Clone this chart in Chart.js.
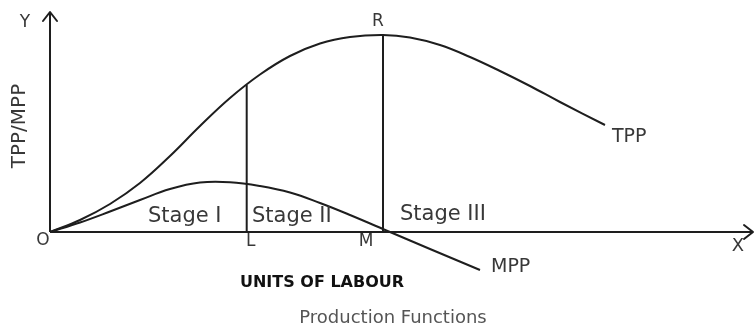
<!DOCTYPE html>
<html>
<head>
<meta charset="utf-8">
<script src="https://cdn.jsdelivr.net/npm/chart.js@4.4.1/dist/chart.umd.min.js"></script>
<style>
html,body{margin:0;padding:0;background:#fff;}
#wrap{position:relative;width:755px;height:331px;}
</style>
</head>
<body>
<div id="wrap"><canvas id="c"></canvas></div>
<script>
// Units of labour (x) and product (y)
const tppX = [0, 3, 6, 9, 12, 15, 18, 21, 24, 27, 30, 33.3, 36, 39, 42, 45, 48, 51, 55.5];
const tppY = [0, 1.2, 2.8, 4.9, 7.6, 10.6, 13.4, 15.75, 17.6, 18.85, 19.5, 19.7, 19.45, 18.7, 17.5, 16.1, 14.6, 13.0, 10.7];
const mppX = [0, 3, 6, 9, 12, 15, 18, 21, 24, 27, 30, 34, 38, 43];
const mppY = [0, 0.95, 2.05, 3.2, 4.3, 4.95, 4.98, 4.6, 3.95, 2.9, 1.7, 0, -1.7, -3.8];
const pointL = 19.67;  // end of Stage I
const topL = 14.7;     // TPP at L
const pointM = 33.3;   // end of Stage II (TPP max, R)
const topM = 19.7;     // TPP at R
const xAxisEnd = 70.3;
const yAxisEnd = 22;
const stageLabels = ['Stage I', 'Stage II', 'Stage III'];
const curveNames = ['TPP', 'MPP'];

const tppData = tppX.map((x, i) => ({x, y: tppY[i]}));
const mppData = mppX.map((x, i) => ({x, y: mppY[i]}));

const INK = '#1e1e1e';
const TXT = '#383838';

const lineDs = (data, tension) => ({
  data, borderColor: INK, borderWidth: 2, pointRadius: 0, tension,
  cubicInterpolationMode: 'default', fill: false
});

const labelsPlugin = {
  id: 'labels',
  afterDatasetsDraw(chart) {
    const {ctx, scales: {x, y}} = chart;
    const px = v => x.getPixelForValue(v), py = v => y.getPixelForValue(v);
    ctx.save();
    // arrowheads
    ctx.strokeStyle = INK; ctx.lineWidth = 2; ctx.lineCap = 'round'; ctx.lineJoin = 'round';
    const yx = px(0), yt = py(yAxisEnd);
    ctx.beginPath(); ctx.moveTo(yx - 7, yt + 9); ctx.lineTo(yx, yt); ctx.lineTo(yx + 7, yt + 9); ctx.stroke();
    const xr = px(xAxisEnd), xy = py(0);
    ctx.beginPath(); ctx.moveTo(xr - 9, xy - 7); ctx.lineTo(xr, xy); ctx.lineTo(xr - 9, xy + 7); ctx.stroke();

    const F = 'DejaVu Sans, Arial, sans-serif';
    const txt = (s, X, Y, size, align = 'center', base = 'middle', weight = 'normal', color = TXT) => {
      ctx.font = `${weight} ${size}px ${F}`;
      ctx.fillStyle = color; ctx.textAlign = align; ctx.textBaseline = base;
      ctx.fillText(s, X, Y);
    };
    txt('Y', 25, 23, 17);
    txt('O', 43, 241, 17);
    txt('L', px(pointL) + 4, 242, 17);
    txt('M', px(pointM) - 17, 242, 17);
    txt('X', 738, 246, 18);
    txt('R', px(pointM) - 5, 22, 17);
    txt(curveNames[0], 612, 137, 19, 'left');
    txt(curveNames[1], 491, 267, 19, 'left');
    txt(stageLabels[0], 148, 217, 21, 'left');
    txt(stageLabels[1], 252, 217, 21, 'left');
    txt(stageLabels[2], 400, 215, 21, 'left');
    txt('UNITS OF LABOUR', 322, 283, 16, 'center', 'middle', 'bold', '#111');
    txt('Production Functions', 393, 318, 18, 'center', 'middle', 'normal', '#555');
    ctx.save();
    ctx.translate(20, 126); ctx.rotate(-Math.PI / 2);
    txt('TPP/MPP', 0, 0, 20);
    ctx.restore();
    ctx.restore();
  }
};

new Chart(document.getElementById('c'), {
  type: 'line',
  data: {
    datasets: [
      lineDs(tppData, 0.4),
      lineDs(mppData, 0.4),
      lineDs([{x: pointL, y: 0}, {x: pointL, y: topL}], 0),
      lineDs([{x: pointM, y: 0}, {x: pointM, y: topM}], 0),
      lineDs([{x: 0, y: 0}, {x: xAxisEnd, y: 0}], 0),
      lineDs([{x: 0, y: 0}, {x: 0, y: yAxisEnd}], 0)
    ]
  },
  options: {
    responsive: true, maintainAspectRatio: false, animation: false,
    devicePixelRatio: 1,
    layout: {padding: 0, autoPadding: false},
    plugins: {legend: {display: false}, tooltip: {enabled: false}},
    scales: {
      x: {type: 'linear', min: -5, max: 70.5, display: false},
      y: {type: 'linear', min: -9.9, max: 23.2, display: false}
    }
  },
  plugins: [labelsPlugin]
});
</script>
</body>
</html>
